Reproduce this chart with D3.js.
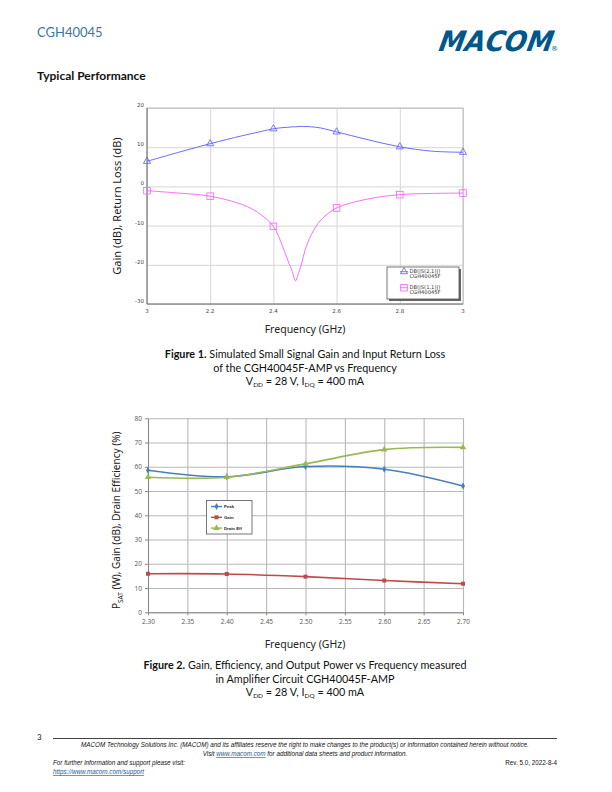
<!DOCTYPE html>
<html>
<head>
<meta charset="utf-8">
<script src="https://cdn.jsdelivr.net/npm/d3@7"></script>
<style>
  body { margin: 0; background: #fff; }
  svg { display: block; }
</style>
</head>
<body>
<div id="page"></div>
<script>
// ---------- figure 1 data (simulated small signal) ----------
const simFreq = [2.0, 2.1, 2.2, 2.3, 2.35, 2.4, 2.43, 2.45, 2.46, 2.47, 2.48, 2.49, 2.5, 2.52, 2.55, 2.6, 2.7, 2.8, 2.9, 3.0];
const s21 = [6.4, 8.7, 10.9, 12.9, 13.8, 14.7, 15.0, 15.1, 15.2, 15.2, 15.3, 15.3, 15.3, 15.2, 14.9, 13.9, 11.9, 10.1, 9.0, 8.7];
const s11 = [-1.1, -1.7, -2.5, -4.6, -6.6, -10.2, -15.5, -19.8, -21.8, -24.1, -22.0, -19.5, -16.3, -12.3, -8.6, -5.5, -3.2, -2.1, -1.8, -1.7];
const markFreq = [2.0, 2.2, 2.4, 2.6, 2.8, 3.0];
const fig1XTicks = [2.0, 2.2, 2.4, 2.6, 2.8, 3.0];
const fig1XLabels = ["3", "2.2", "2.4", "2.6", "2.8", "3"];
const fig1YTicks = [20, 10, 0, -10, -20, -30];
const fig1Legend = [["DB(|S(2,1)|)", "CGH40045F"], ["DB(|S(1,1)|)", "CGH40045F"]];

// ---------- figure 2 data (measured) ----------
const measFreq = [2.3, 2.4, 2.5, 2.6, 2.7];
const peak = [58.6, 55.9, 60.1, 59.0, 52.1];
const gain = [15.9, 15.8, 14.7, 13.1, 11.8];
const drainEff = [55.7, 55.7, 61.2, 67.1, 68.0];
const fig2SeriesNames = ["Peak", "Gain", "Drain Eff"];
const fig2XTicks = [2.30, 2.35, 2.40, 2.45, 2.50, 2.55, 2.60, 2.65, 2.70];
const fig2YTicks = [0, 10, 20, 30, 40, 50, 60, 70, 80];

const W = 612, H = 792;
const svg = d3.select("#page").append("svg").attr("width", W).attr("height", H);
const docFont = "Lato, 'Noto Sans', sans-serif";
const labFont = "'Noto Sans', 'Open Sans', sans-serif";

// ---------- page header ----------
svg.append("text").attr("x", 37).attr("y", 37)
  .style("font-family", docFont).style("font-size", "13px").attr("fill", "#3b77a0")
  .text("CGH40045");

const logo = svg.append("g").attr("transform", "translate(436,51) skewX(-20)");
logo.append("text").attr("x", 0).attr("y", 0)
  .attr("textLength", 114).attr("lengthAdjust", "spacingAndGlyphs")
  .style("font-family", "'DejaVu Sans', sans-serif").style("font-weight", "bold")
  .style("font-size", "28px").attr("fill", "#00578a").text("MACOM");
svg.append("text").attr("x", 551).attr("y", 51)
  .style("font-family", "'DejaVu Sans', sans-serif").style("font-size", "7px")
  .attr("fill", "#00578a").text("®");

svg.append("text").attr("x", 37).attr("y", 80)
  .style("font-family", docFont).style("font-size", "12px").style("font-weight", "bold")
  .attr("fill", "#111").text("Typical Performance");

// ---------- figure 1 ----------
const x1 = d3.scaleLinear().domain([2.0, 3.0]).range([147, 463]);
const y1 = d3.scaleLinear().domain([-30, 20]).range([304, 108]);
const g1 = svg.append("g");

// grid
g1.append("g").attr("transform", `translate(0,${y1(-30)})`)
  .call(d3.axisBottom(x1).tickValues(fig1XTicks).tickSize(-(y1(-30) - y1(20))).tickFormat(""))
  .call(g => g.select(".domain").remove())
  .selectAll("line").attr("stroke", "#d6d6d6");
g1.append("g").attr("transform", `translate(${x1(2.0)},0)`)
  .call(d3.axisLeft(y1).tickValues(fig1YTicks).tickSize(-(x1(3.0) - x1(2.0))).tickFormat(""))
  .call(g => g.select(".domain").remove())
  .selectAll("line").attr("stroke", "#d6d6d6");

// frame + axis lines
g1.append("rect").attr("x", x1(2.0)).attr("y", y1(20))
  .attr("width", x1(3.0) - x1(2.0)).attr("height", y1(-30) - y1(20))
  .attr("fill", "none").attr("stroke", "#bbb");
g1.append("line").attr("x1", x1(2.0)).attr("x2", x1(2.0)).attr("y1", y1(20)).attr("y2", y1(-30)).attr("stroke", "#777");
g1.append("line").attr("x1", x1(2.0)).attr("x2", x1(3.0)).attr("y1", y1(-30)).attr("y2", y1(-30)).attr("stroke", "#777");

// tick labels
const tickFont1 = "'DejaVu Sans', sans-serif";
g1.append("g").selectAll("text").data(fig1YTicks).join("text")
  .attr("x", x1(2.0) - 3).attr("y", d => y1(d) - 1)
  .attr("text-anchor", "end")
  .style("font-family", tickFont1).style("font-size", "5.5px").attr("fill", "#444")
  .text(d => d);
g1.append("g").selectAll("text").data(fig1XTicks).join("text")
  .attr("x", d => x1(d)).attr("y", y1(-30) + 9)
  .attr("text-anchor", "middle")
  .style("font-family", tickFont1).style("font-size", "5.5px").attr("fill", "#444")
  .text((d, i) => fig1XLabels[i]);

// curves
const sim = simFreq.map((f, i) => ({ f, s21: s21[i], s11: s11[i] }));
const simMarks = sim.filter(d => markFreq.some(m => Math.abs(m - d.f) < 1e-9));
const blue1 = "#5a5aff", pink1 = "#ff5cff";

const line21 = d3.line().x(d => x1(d.f)).y(d => y1(d.s21)).curve(d3.curveCatmullRom.alpha(0.5));
const line11 = d3.line().x(d => x1(d.f)).y(d => y1(d.s11)).curve(d3.curveCatmullRom.alpha(0.5));
g1.append("path").datum(sim).attr("d", line21).attr("fill", "none").attr("stroke", blue1).attr("stroke-width", 0.9);
g1.append("path").datum(sim).attr("d", line11).attr("fill", "none").attr("stroke", pink1).attr("stroke-width", 0.9);

const tri = d3.symbol().type(d3.symbolTriangle).size(22);
g1.append("g").selectAll("path").data(simMarks).join("path")
  .attr("transform", d => `translate(${x1(d.f)},${y1(d.s21)})`)
  .attr("d", tri).attr("fill", "none").attr("stroke", blue1).attr("stroke-width", 0.8);
g1.append("g").selectAll("rect").data(simMarks).join("rect")
  .attr("x", d => x1(d.f) - 3.3).attr("y", d => y1(d.s11) - 3.3)
  .attr("width", 6.6).attr("height", 6.6)
  .attr("fill", "none").attr("stroke", pink1).attr("stroke-width", 0.8);

// legend
const lg1 = g1.append("g").attr("transform", "translate(387,267)");
lg1.append("rect").attr("x", 2).attr("y", 2).attr("width", 72).attr("height", 32).attr("fill", "#666");
lg1.append("rect").attr("x", 0).attr("y", 0).attr("width", 72).attr("height", 32).attr("fill", "#fff").attr("stroke", "#555").attr("stroke-width", 0.8);
fig1Legend.forEach((lab, i) => {
  const cy = 4.7 + i * 16;
  const col = i === 0 ? blue1 : pink1;
  lg1.append("line").attr("x1", 13).attr("x2", 21).attr("y1", cy).attr("y2", cy).attr("stroke", col).attr("stroke-width", 0.8);
  if (i === 0) {
    lg1.append("path").attr("transform", `translate(17,${cy})`).attr("d", tri).attr("fill", "none").attr("stroke", col).attr("stroke-width", 0.8);
  } else {
    lg1.append("rect").attr("x", 13.7).attr("y", cy - 3.3).attr("width", 6.6).attr("height", 6.6).attr("fill", "none").attr("stroke", col).attr("stroke-width", 0.8);
  }
  lab.forEach((t, j) => {
    lg1.append("text").attr("x", 22.5).attr("y", cy + 1.2 + j * 4.6)
      .style("font-family", tickFont1).style("font-size", "5.2px").attr("fill", "#333").text(t);
  });
});

// axis titles
svg.append("text").attr("transform", `translate(121,${(y1(20) + y1(-30)) / 2}) rotate(-90)`)
  .attr("text-anchor", "middle")
  .style("font-family", labFont).style("font-size", "11px").attr("fill", "#222")
  .text("Gain (dB), Return Loss (dB)");
svg.append("text").attr("x", 305).attr("y", 333).attr("text-anchor", "middle")
  .style("font-family", labFont).style("font-size", "10.5px").attr("fill", "#222")
  .text("Frequency (GHz)");

// caption helper
function caption(yTop, boldPart, line1, line2) {
  const c = svg.append("g").style("font-family", docFont).style("font-size", "10.8px").attr("fill", "#111");
  const t1 = c.append("text").attr("x", 305).attr("y", yTop).attr("text-anchor", "middle");
  t1.append("tspan").style("font-weight", "bold").text(boldPart);
  t1.append("tspan").text(" " + line1);
  c.append("text").attr("x", 305).attr("y", yTop + 13.5).attr("text-anchor", "middle").text(line2);
  const t3 = c.append("text").attr("x", 305).attr("y", yTop + 27).attr("text-anchor", "middle");
  t3.append("tspan").text("V");
  t3.append("tspan").attr("dy", 2).style("font-size", "6.5px").text("DD");
  t3.append("tspan").attr("dy", -2).text(" = 28 V, I");
  t3.append("tspan").attr("dy", 2).style("font-size", "6.5px").text("DQ");
  t3.append("tspan").attr("dy", -2).text(" = 400 mA");
}
caption(358, "Figure 1.", "Simulated Small Signal Gain and Input Return Loss", "of the CGH40045F-AMP vs Frequency");

// ---------- figure 2 ----------
const x2 = d3.scaleLinear().domain([2.3, 2.7]).range([148, 463]);
const y2 = d3.scaleLinear().domain([0, 80]).range([612.3, 418.3]);
const g2 = svg.append("g");

g2.append("g").attr("transform", `translate(0,${y2(0)})`)
  .call(d3.axisBottom(x2).tickValues(fig2XTicks).tickSize(-(y2(0) - y2(80))).tickFormat(""))
  .call(g => g.select(".domain").remove())
  .selectAll("line").attr("stroke", "#b8b8b8").attr("stroke-width", 1.1);
g2.append("g").attr("transform", `translate(${x2(2.3)},0)`)
  .call(d3.axisLeft(y2).tickValues(fig2YTicks).tickSize(-(x2(2.7) - x2(2.3))).tickFormat(""))
  .call(g => g.select(".domain").remove())
  .selectAll("line").attr("stroke", "#b8b8b8").attr("stroke-width", 1.1);

// axes with small outer ticks
const ax2b = g2.append("g").attr("transform", `translate(0,${y2(0)})`)
  .call(d3.axisBottom(x2).tickValues(fig2XTicks).tickSize(3).tickSizeOuter(0).tickFormat(d3.format(".2f")));
const ax2l = g2.append("g").attr("transform", `translate(${x2(2.3)},0)`)
  .call(d3.axisLeft(y2).tickValues(fig2YTicks).tickSize(3).tickSizeOuter(0).tickFormat(d3.format("d")));
[ax2b, ax2l].forEach(a => {
  a.select(".domain").attr("stroke", "#868686");
  a.selectAll(".tick line").attr("stroke", "#868686");
  a.selectAll(".tick text").style("font-family", "'Open Sans', sans-serif").style("font-size", "6.5px").attr("fill", "#555");
});
ax2b.selectAll(".tick text").attr("dy", "0.9em");

const cPeak = "#4a7ebb", cGain = "#be4b48", cEff = "#98b954";
const meas = measFreq.map((f, i) => ({ f, peak: peak[i], gain: gain[i], eff: drainEff[i] }));
const smooth = d3.curveCatmullRom.alpha(0.5);
[["peak", cPeak], ["gain", cGain], ["eff", cEff]].forEach(([k, col]) => {
  g2.append("path").datum(meas)
    .attr("d", d3.line().x(d => x2(d.f)).y(d => y2(d[k])).curve(smooth))
    .attr("fill", "none").attr("stroke", col).attr("stroke-width", 1.6);
});
const diamond = d3.symbol().type(d3.symbolDiamond).size(14);
const square = d3.symbol().type(d3.symbolSquare).size(16);
const triangle = d3.symbol().type(d3.symbolTriangle).size(18);
g2.append("g").selectAll("path").data(meas).join("path")
  .attr("transform", d => `translate(${x2(d.f)},${y2(d.peak)})`).attr("d", diamond).attr("fill", cPeak);
g2.append("g").selectAll("path").data(meas).join("path")
  .attr("transform", d => `translate(${x2(d.f)},${y2(d.gain)})`).attr("d", square).attr("fill", cGain);
g2.append("g").selectAll("path").data(meas).join("path")
  .attr("transform", d => `translate(${x2(d.f)},${y2(d.eff)})`).attr("d", triangle).attr("fill", cEff);

// legend
const lg2 = g2.append("g").attr("transform", "translate(206.5,500.5)");
lg2.append("rect").attr("width", 45.5).attr("height", 33.5).attr("fill", "#fff").attr("stroke", "#555").attr("stroke-width", 0.8);
const legSyms = [[diamond, cPeak], [square, cGain], [triangle, cEff]];
fig2SeriesNames.forEach((name, i) => {
  const cy = 6 + i * 10.8;
  lg2.append("line").attr("x1", 4.5).attr("x2", 15.5).attr("y1", cy).attr("y2", cy).attr("stroke", legSyms[i][1]).attr("stroke-width", 1.4);
  lg2.append("path").attr("transform", `translate(10,${cy})`).attr("d", legSyms[i][0]).attr("fill", legSyms[i][1]);
  lg2.append("text").attr("x", 17.5).attr("y", cy + 1.5)
    .style("font-family", "'Liberation Sans', sans-serif").style("font-size", "4.3px").style("font-weight", "bold")
    .attr("fill", "#222").text(name);
});

// axis titles
const yt2 = svg.append("text").attr("transform", `translate(120,${(y2(0) + y2(80)) / 2 + 5}) rotate(-90)`)
  .attr("text-anchor", "middle")
  .style("font-family", labFont).style("font-size", "10px").attr("fill", "#222");
yt2.append("tspan").text("P");
yt2.append("tspan").attr("dy", 2.5).style("font-size", "6.5px").text("SAT");
yt2.append("tspan").attr("dy", -2.5).text(" (W), Gain (dB), Drain Efficiency (%)");
svg.append("text").attr("x", 305).attr("y", 648).attr("text-anchor", "middle")
  .style("font-family", labFont).style("font-size", "10.5px").attr("fill", "#222")
  .text("Frequency (GHz)");

caption(669, "Figure 2.", "Gain, Efficiency, and Output Power vs Frequency measured", "in Amplifier Circuit CGH40045F-AMP");

// ---------- footer ----------
const footFont = "'Liberation Sans', Arial, sans-serif";
svg.append("text").attr("x", 37).attr("y", 740).style("font-family", docFont).style("font-size", "8px").attr("fill", "#111").text("3");
svg.append("line").attr("x1", 53).attr("x2", 557).attr("y1", 738.5).attr("y2", 738.5).attr("stroke", "#111").attr("stroke-width", 0.8);
const ft = svg.append("g").style("font-family", footFont).style("font-size", "6.3px").style("font-style", "italic").attr("fill", "#111");
ft.append("text").attr("x", 305).attr("y", 747).attr("text-anchor", "middle")
  .text("MACOM Technology Solutions Inc. (MACOM) and its affiliates reserve the right to make changes to the product(s) or information contained herein without notice.");
const v = ft.append("text").attr("x", 305).attr("y", 756).attr("text-anchor", "middle");
v.append("tspan").text("Visit ");
v.append("tspan").attr("fill", "#1a5a8a").style("text-decoration", "underline").text("www.macom.com");
v.append("tspan").text(" for additional data sheets and product information.");
ft.append("text").attr("x", 53).attr("y", 765).text("For further information and support please visit:");
ft.append("text").attr("x", 557).attr("y", 765).attr("text-anchor", "end").style("font-style", "normal").text("Rev. 5.0, 2022-8-4");
ft.append("text").attr("x", 53).attr("y", 774).attr("fill", "#1a5a8a").style("text-decoration", "underline")
  .text("https://www.macom.com/support");
</script>
</body>
</html>
